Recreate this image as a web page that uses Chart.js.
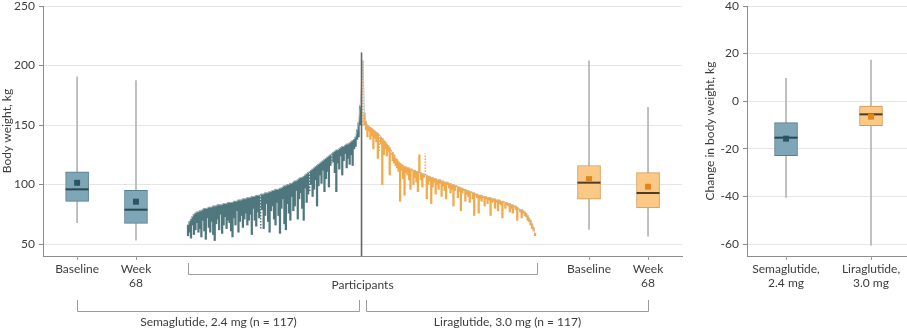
<!DOCTYPE html>
<html>
<head>
<meta charset="utf-8">
<script src="https://cdn.jsdelivr.net/npm/chart.js@4"></script>
<style>
  body { margin: 0; background: #fff; }
  #wrap { position: relative; width: 907px; height: 330px; }
  #leftChart { position: absolute; left: 0; top: 0; }
  #rightChart { position: absolute; left: 703px; top: 0; }
</style>
</head>
<body>
<div id="wrap">
  <canvas id="leftChart" width="690" height="330"></canvas>
  <canvas id="rightChart" width="204" height="330"></canvas>
</div>
<script>
// --- data ---

// body weight (kg) per participant, semaglutide sorted by baseline (ascending)
const semaBaseline = [
  66, 69, 71, 73, 75, 76, 77, 77, 78, 78,
  79, 80, 80, 80, 81, 81, 81, 82, 82, 82,
  83, 83, 83, 83, 84, 84, 84, 85, 85, 85,
  85, 86, 86, 86, 87, 87, 87, 88, 88, 88,
  89, 89, 89, 90, 90, 90, 91, 91, 91, 92,
  92, 92, 93, 93, 93, 94, 94, 95, 95, 96,
  96, 96, 97, 97, 98, 99, 99, 100, 100, 101,
  101, 102, 103, 103, 104, 105, 106, 106, 107, 108,
  109, 110, 111, 112, 113, 114, 115, 116, 117, 118,
  119, 120, 121, 122, 123, 124, 125, 126, 127, 128,
  129, 129, 130, 131, 132, 132, 133, 134, 134, 135,
  136, 137, 138, 140, 146, 152, 166
];
const semaWeek68 = [
  57, 60, 55, 66, 58, 62, 68, 60, 63, 56,
  70, 61, 54, 72, 64, 60, 69, 58, 53, 67,
  71, 62, 75, 59, 66, 73, 63, 70, 68, 61,
  56, 72, 66, 78, 60, 69, 74, 64, 71, 76,
  66, 70, 75, 58, 80, 70, 65, 77, 72, 62,
  79, 63, 74, 84, 69, 60, 78, 82, 71, 66,
  85, 74, 59, 80, 88, 67, 62, 84, 76, 70,
  90, 78, 82, 95, 71, 88, 93, 80, 70, 97,
  85, 92, 94, 100, 90, 96, 104, 82, 99, 108,
  101, 112, 94, 105, 111, 98, 116, 118, 119, 110,
  94, 118, 113, 124, 108, 120, 126, 114, 122, 117,
  125, 116, 130, 132, 138, 140, 150
];
const semaDotted = [49, 82, 97];

// liraglutide sorted by baseline (descending)
const liraBaseline = [
  204, 160, 153, 150, 149, 148, 147, 146, 145, 144,
  143, 142, 140, 139, 137, 136, 134, 133, 131, 129,
  127, 125, 122, 121, 119, 118, 117, 116, 115, 115,
  114, 114, 113, 113, 112, 112, 111, 111, 110, 110,
  109, 109, 108, 108, 107, 107, 106, 106, 105, 105,
  104, 104, 104, 103, 103, 102, 102, 102, 101, 101,
  100, 100, 99, 99, 98, 98, 97, 97, 96, 96,
  95, 95, 94, 94, 93, 93, 92, 92, 91, 91,
  91, 90, 90, 90, 89, 89, 89, 88, 88, 88,
  87, 87, 87, 86, 86, 86, 85, 85, 84, 84,
  83, 83, 82, 82, 81, 80, 79, 79, 78, 77,
  76, 74, 72, 70, 67, 64, 59
];
const liraWeek68 = [
  149, 150, 146, 140, 145, 138, 141, 130, 139, 136,
  122, 128, 134, 100, 125, 130, 124, 128, 108, 124,
  120, 118, 116, 114, 111, 86, 112, 105, 91, 110,
  108, 104, 96, 112, 100, 106, 102, 94, 125, 104,
  98, 106, 126, 88, 100, 103, 84, 98, 102, 92,
  100, 96, 101, 90, 99, 95, 88, 100, 97, 93,
  96, 82, 95, 98, 89, 94, 78, 93, 95, 86,
  92, 90, 85, 93, 88, 74, 91, 89, 76, 88,
  86, 89, 82, 88, 84, 87, 74, 85, 86, 80,
  85, 78, 84, 83, 72, 84, 80, 83, 82, 77,
  80, 76, 81, 79, 70, 78, 77, 72, 76, 74,
  73, 70, 69, 66, 63, 61, 57
];
const liraDotted = [0, 11, 19, 42, 95, 105];

// box plot stats: [min, q1, median, q3, max, mean]
const semaBaselineStats = [67.9, 85.9, 96.0, 110.8, 190.6, 101.5];
const semaWeek68Stats = [53.4, 67.4, 78.9, 95.1, 187.3, 85.6];
const liraBaselineStats = [62.4, 87.8, 101.6, 116.0, 204.0, 104.6];
const liraWeek68Stats = [56.7, 80.3, 92.9, 110.0, 164.9, 98.2];
const semaChangeStats = [-40.4, -22.9, -15.3, -9.0, 9.6, -15.7];
const liraChangeStats = [-60.4, -10.3, -5.5, -2.0, 17.3, -6.5];

const weightTicks = [50, 100, 150, 200, 250];
const changeTicks = [-60, -40, -20, 0, 20, 40];
const timeLabels = ["Baseline", ["Week", "68"], "Baseline", ["Week", "68"]];
const drugLabels = [["Semaglutide,", "2.4 mg"], ["Liraglutide,", "3.0 mg"]];
const groupLabels = ["Semaglutide, 2.4 mg (n = 117)", "Liraglutide, 3.0 mg (n = 117)"];

// --- layout / styles ---
const FONT = "Lato";
const TEXT = "#3c3c3c";
const AXIS = "#8c8c8c";
const GRID = "#e6e6e6";
// x positions on the left panel (participant units)
const POS = { semaBase: -74.8, semaWk: -35.1, divider: 117, liraStart: 118, liraBase: 270.4, liraWk: 310.2 };
const dividerTop = 211;
// x positions on the right panel
const RPOS = [0.244, 0.775];

const SEMA = { bar: "#4f777d", fill: "#7ea6b6", border: "#587d8c", median: "#2d4550", mean: "#2b5462" };
const LIRA = { bar: "#f1a94a", fill: "#fcc886", border: "#cf9a55", median: "#4a3b2a", mean: "#e0861b" };

Chart.defaults.font.family = FONT;
Chart.defaults.font.size = 12;
Chart.defaults.color = TEXT;

function makeBox(stats, x, pal) {
  return [
    { type: "bar", data: [{ x: x, y: [stats[0], stats[4]] }], backgroundColor: "#b4b4b4",
      barThickness: 1, grouped: false, order: 9 },
    { type: "bar", data: [{ x: x, y: [stats[1], stats[3]] }], backgroundColor: pal.fill,
      borderColor: pal.border, borderWidth: 1, borderSkipped: false, barThickness: 23, grouped: false, order: 8 },
    { type: "scatter", data: [{ x: x, y: stats[2] }], pointStyle: "line", pointRadius: 11.5,
      borderColor: pal.median, borderWidth: 2, order: 7 },
    { type: "scatter", data: [{ x: x, y: stats[5] }], pointStyle: "rect", pointRadius: 4.2,
      backgroundColor: pal.mean, borderWidth: 0, order: 6 }
  ];
}

function waterfall(base, wk, dotted, offset, pal) {
  const solid = [], dots = [];
  base.forEach((b, i) => {
    if (dotted.includes(i)) {
      dots.push({ x: offset + i, y: b }, { x: offset + i, y: wk[i] }, { x: offset + i, y: null });
    } else {
      solid.push({ x: offset + i, y: [b, wk[i]] });
    }
  });
  return [
    { type: "bar", data: solid, backgroundColor: pal.bar, barThickness: 1.6, grouped: false, order: 12 },
    { type: "line", data: dots, borderColor: pal.bar, borderWidth: 1.5, borderDash: [1.5, 1.5],
      pointRadius: 0, spanGaps: false, order: 11 }
  ];
}

const baselineCurve = semaBaseline.map((v, i) => ({ x: i, y: v }))
  .concat(liraBaseline.map((v, j) => ({ x: POS.liraStart + j, y: v })));

// x tick marks, brackets and group labels under the axis
function underAxis(tickValues, withBrackets) {
  return {
    id: "underAxis",
    afterDraw(chart) {
      const ctx = chart.ctx;
      const xs = chart.scales.x;
      const b = chart.chartArea.bottom;
      const px = v => Math.round(xs.getPixelForValue(v)) + 0.5;
      ctx.save();
      ctx.strokeStyle = "#9c9c9c";
      ctx.lineWidth = 1;
      tickValues.forEach(v => {
        ctx.beginPath(); ctx.moveTo(px(v), b); ctx.lineTo(px(v), b + 4); ctx.stroke();
      });
      if (withBrackets) {
        const bracket = (x0, x1, yLine, yTop) => {
          ctx.beginPath();
          ctx.moveTo(x0, yTop); ctx.lineTo(x0, yLine); ctx.lineTo(x1, yLine); ctx.lineTo(x1, yTop);
          ctx.stroke();
        };
        const pStart = px(0), pEnd = px(POS.liraStart + liraBaseline.length);
        bracket(pStart, pEnd, b + 18.5, b + 7);
        const s0 = px(POS.semaBase), s1 = px(POS.divider - 1.6);
        const l0 = px(POS.divider + 3), l1 = px(POS.liraWk);
        bracket(s0, s1, b + 55.5, b + 44);
        bracket(l0, l1, b + 55.5, b + 44);
        ctx.fillStyle = TEXT;
        ctx.font = "12px " + FONT;
        ctx.textAlign = "center";
        ctx.textBaseline = "middle";
        ctx.fillText("Participants", px(POS.divider), b + 29);
        ctx.fillText(groupLabels[0], (s0 + s1) / 2, b + 66);
        ctx.fillText(groupLabels[1], (l0 + l1) / 2, b + 66);
      }
      ctx.restore();
    }
  };
}

const leftTicks = [POS.semaBase, POS.semaWk, POS.liraBase, POS.liraWk];

// y axis: fixed width, no extra padding for the end labels
function fitY(width) {
  return s => { s.width = width; s.paddingTop = 0; s.paddingBottom = 0; };
}

new Chart(document.getElementById("leftChart"), {
  type: "scatter",
  data: {
    datasets: [
      ...waterfall(semaBaseline, semaWeek68, semaDotted, 0, SEMA),
      ...waterfall(liraBaseline, liraWeek68, liraDotted, POS.liraStart, LIRA),
      { type: "line", data: baselineCurve, borderColor: "#b7c1c5", borderWidth: 0.8, pointRadius: 0, order: 4 },
      { type: "line", data: [{ x: POS.divider, y: 40 }, { x: POS.divider, y: dividerTop }],
        borderColor: "#666", borderWidth: 1.6, pointRadius: 0, order: 3 },
      ...makeBox(semaBaselineStats, POS.semaBase, SEMA),
      ...makeBox(semaWeek68Stats, POS.semaWk, SEMA),
      ...makeBox(liraBaselineStats, POS.liraBase, LIRA),
      ...makeBox(liraWeek68Stats, POS.liraWk, LIRA)
    ]
  },
  options: {
    responsive: false,
    animation: false,
    layout: { autoPadding: false, padding: { top: 6, right: 8, left: 0, bottom: 0 } },
    plugins: { legend: { display: false }, tooltip: { enabled: false } },
    scales: {
      x: {
        type: "linear", min: -97.8, max: 333.1, offset: false,
        afterBuildTicks: s => { s.ticks = leftTicks.map(v => ({ value: v })); },
        afterFit: s => { s.height = 74; },
        ticks: { autoSkip: false, maxRotation: 0, minRotation: 0, padding: -2, color: TEXT,
          callback: (v, i) => timeLabels[i] },
        grid: { display: false },
        border: { color: AXIS }
      },
      y: {
        min: 40, max: 250,
        afterBuildTicks: s => { s.ticks = weightTicks.map(v => ({ value: v })); },
        afterFit: fitY(43),
        title: { display: true, text: "Body weight, kg", color: TEXT, padding: 0 },
        ticks: { padding: 4, color: TEXT },
        grid: { color: GRID, tickLength: 4, tickColor: AXIS },
        border: { color: AXIS }
      }
    }
  },
  plugins: [underAxis(leftTicks, true)]
});

new Chart(document.getElementById("rightChart"), {
  type: "scatter",
  data: {
    datasets: [
      ...makeBox(semaChangeStats, RPOS[0], SEMA),
      ...makeBox(liraChangeStats, RPOS[1], LIRA)
    ]
  },
  options: {
    responsive: false,
    animation: false,
    layout: { autoPadding: false, padding: { top: 6, right: 0, left: 0, bottom: 0 } },
    plugins: { legend: { display: false }, tooltip: { enabled: false } },
    scales: {
      x: {
        type: "linear", min: 0, max: 1, offset: false,
        afterBuildTicks: s => { s.ticks = RPOS.map(v => ({ value: v })); },
        afterFit: s => { s.height = 74; },
        ticks: { autoSkip: false, maxRotation: 0, minRotation: 0, padding: -2, color: TEXT,
          callback: (v, i) => drugLabels[i] },
        grid: { display: false },
        border: { color: AXIS }
      },
      y: {
        min: -65, max: 40,
        afterBuildTicks: s => { s.ticks = changeTicks.map(v => ({ value: v })); },
        afterFit: fitY(44),
        title: { display: true, text: "Change in body weight, kg", color: TEXT, padding: 0 },
        ticks: { padding: 4, color: TEXT },
        grid: { color: GRID, tickLength: 4, tickColor: AXIS },
        border: { color: AXIS }
      }
    }
  },
  plugins: [underAxis(RPOS, false)]
});
</script>
</body>
</html>
